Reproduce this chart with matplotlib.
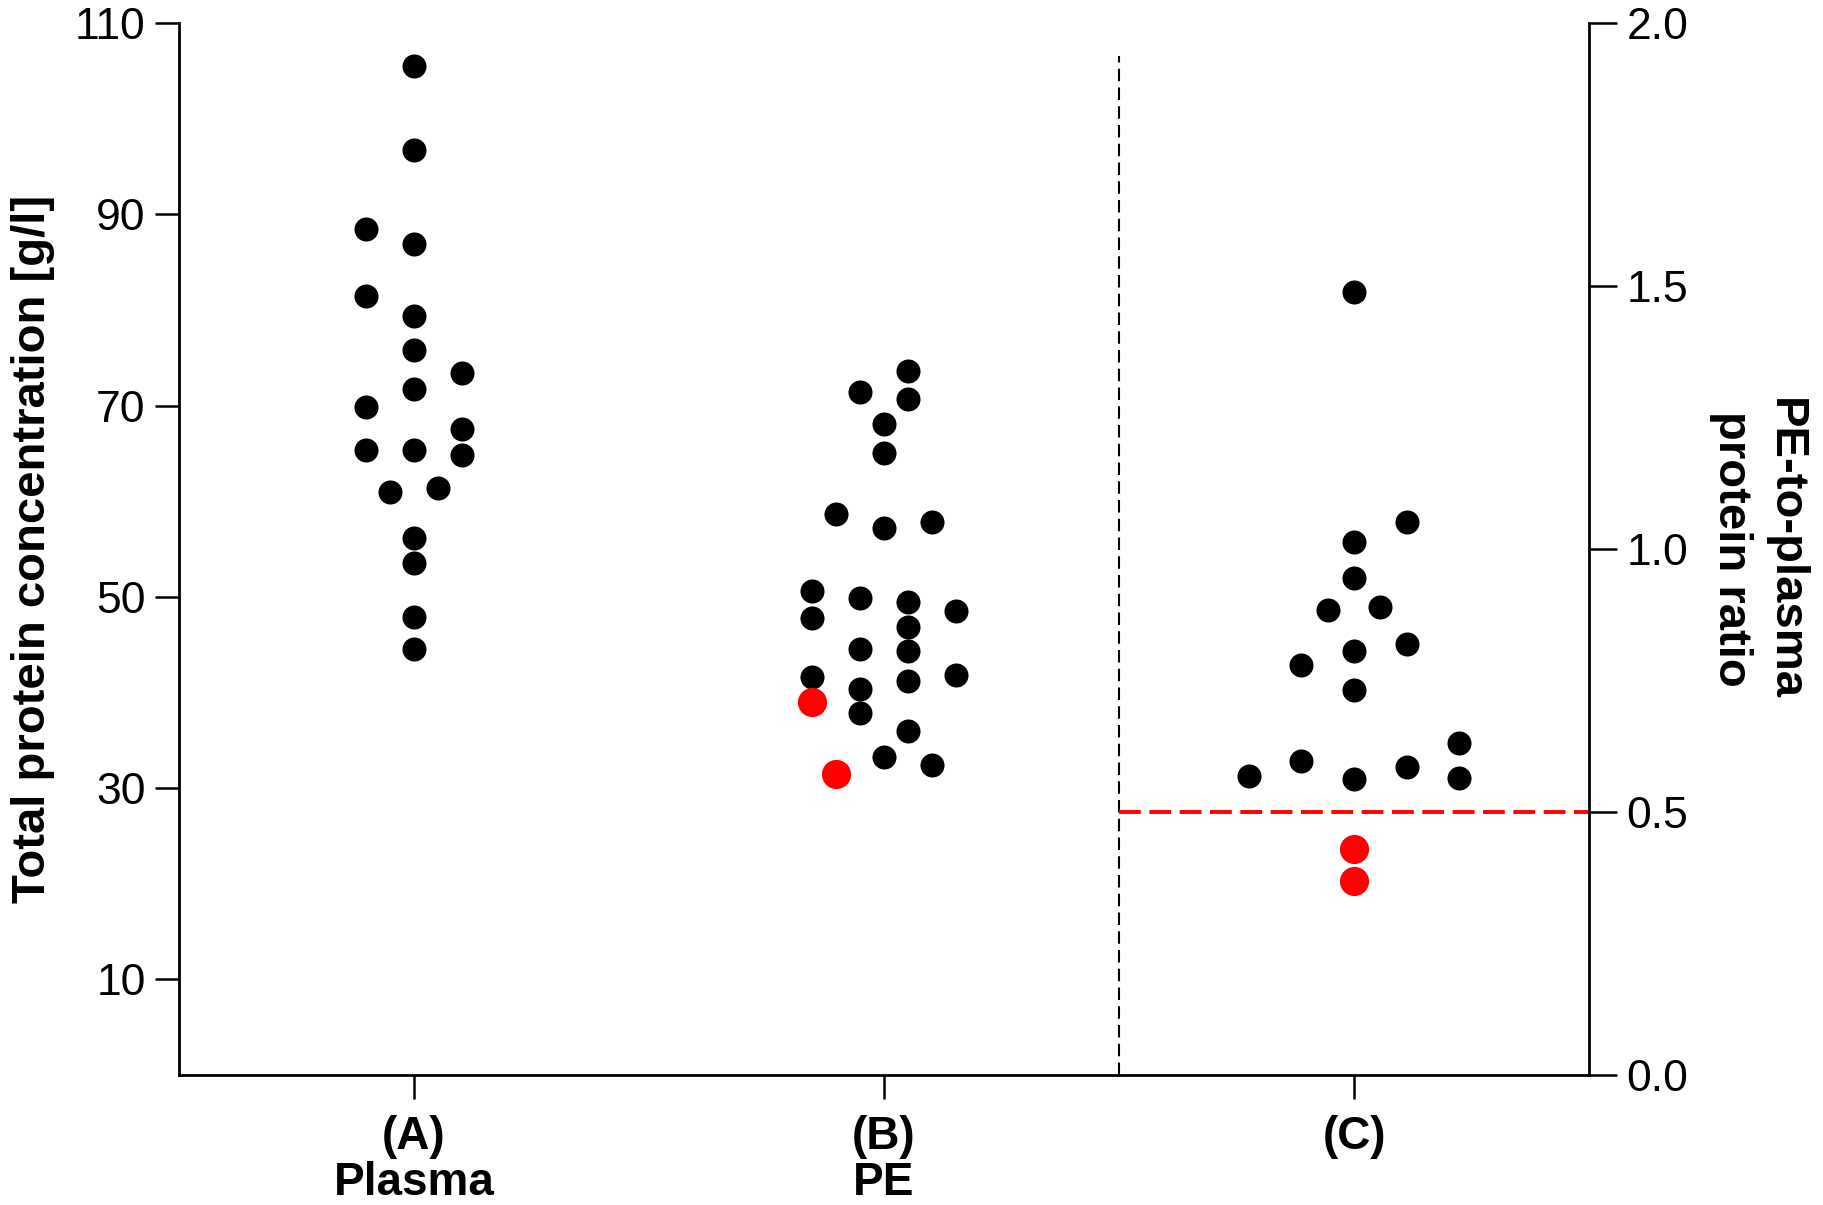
import numpy as np
import matplotlib
matplotlib.use('Agg')
from matplotlib import pyplot as plt

plt.rcParams['font.family'] = ['Liberation Sans', 'DejaVu Sans']

########
# DATA #
########

categories = ['(A)\nPlasma', '(B)\nPE', '(C)']

# (A) plasma total protein [g/l], with beeswarm column index
plasma = [105.5, 96.7, 88.5, 86.9, 81.5, 79.4, 75.8, 73.4, 71.7, 69.8,
          67.6, 65.4, 65.3, 64.8, 61.0, 61.4, 56.1, 53.5, 47.9, 44.5]
plasma_col = [0, 0, -2, 0, -2, 0, 0, 2, 0, -2,
              2, 0, -2, 2, -1, 1, 0, 0, 0, 0]

# (B) pleural effusion total protein [g/l]
pe = [73.6, 71.4, 70.7, 68.1, 65.0, 58.7, 57.2, 57.8, 50.6, 49.9,
      49.5, 48.5, 47.8, 46.8, 44.5, 44.3, 41.6, 41.8, 41.2, 40.4,
      37.9, 36.0, 33.2, 32.4]
pe_col = [1, -1, 1, 0, 0, -2, 0, 2, -3, -1,
          1, 3, -3, 1, -1, 1, -3, 3, 1, -1,
          -1, 1, 0, 2]
pe_red = [39.0, 31.5]
pe_red_col = [-3, -2]

# (C) PE-to-plasma protein ratio
ratio = [1.489, 1.052, 1.013, 0.945, 0.884, 0.890, 0.819, 0.806, 0.779,
         0.731, 0.632, 0.596, 0.585, 0.569, 0.565, 0.563]
ratio_col = [0, 2, 0, 0, -1, 1, 2, 0, -2,
             0, 4, -2, 2, -4, 4, 0]
ratio_red = [0.429, 0.369]
ratio_red_col = [0, 0]

ratio_cutoff = 0.5
divider_x = 2.5

#########
# STYLE #
#########

dot_s = 300
red_s = 440
col_w_ab = 0.051
col_w_c = 0.056
fs_tick = 32
fs_lab = 34
fs_cat = 33

fig = plt.figure(figsize=(18.24, 12.05), dpi=100)
ax = fig.add_axes([0.0981, 0.1079, 0.7731, 0.873])
ax2 = ax.twinx()

# Plasma and PE on left axis
ax.scatter(1 + col_w_ab * np.array(plasma_col), plasma, s=dot_s,
           color='black', linewidths=0, zorder=3)
ax.scatter(2 + col_w_ab * np.array(pe_col), pe, s=dot_s,
           color='black', linewidths=0, zorder=3)
ax.scatter(2 + col_w_ab * np.array(pe_red_col), pe_red, s=red_s,
           color='#ff0000', linewidths=0, zorder=3)

# Ratio on right axis
ax2.scatter(3 + col_w_c * np.array(ratio_col), ratio, s=dot_s,
            color='black', linewidths=0, zorder=3)
ax2.scatter(3 + col_w_c * np.array(ratio_red_col), ratio_red, s=red_s,
            color='#ff0000', linewidths=0, zorder=3)

ax.vlines(divider_x, 0, 106.5, color='black', linewidth=1.5,
          linestyles=(0, (6, 3)), zorder=2)
ax2.hlines(ratio_cutoff, divider_x, 3.5, color='#ff0000', linewidth=2.8,
           linestyles=(0, (5.6, 2.2)), zorder=2)

ax.set_xlim(0.5, 3.5)
ax.set_ylim(0, 110)
ax2.set_ylim(0, 2.0)

ax.set_yticks([10, 30, 50, 70, 90, 110])
ax2.set_yticks([0.0, 0.5, 1.0, 1.5, 2.0])
ax2.set_yticklabels(['0.0', '0.5', '1.0', '1.5', '2.0'])
ax.set_xticks([1, 2, 3])
ax.set_xticklabels(categories, fontsize=fs_cat, fontweight='bold',
                   linespacing=1.05)

for a in (ax, ax2):
    a.spines['top'].set_visible(False)
    for sp in a.spines.values():
        sp.set_linewidth(2.0)
    a.tick_params(direction='out', length=17, width=1.8,
                  labelsize=fs_tick, pad=7)
ax.spines['right'].set_visible(False)
ax2.spines['left'].set_visible(False)
ax2.spines['bottom'].set_visible(False)
ax.tick_params(axis='x', pad=12, labelsize=fs_cat)
ax2.tick_params(axis='y', length=20)

ax.set_ylabel('Total protein concentration [g/l]', fontsize=fs_lab,
              fontweight='bold', labelpad=14)
ax2.set_ylabel('PE-to-plasma\nprotein ratio', fontsize=fs_lab,
               fontweight='bold', rotation=270, labelpad=85,
               linespacing=1.29)

plt.savefig('out.png', dpi=100)
plt.close()
